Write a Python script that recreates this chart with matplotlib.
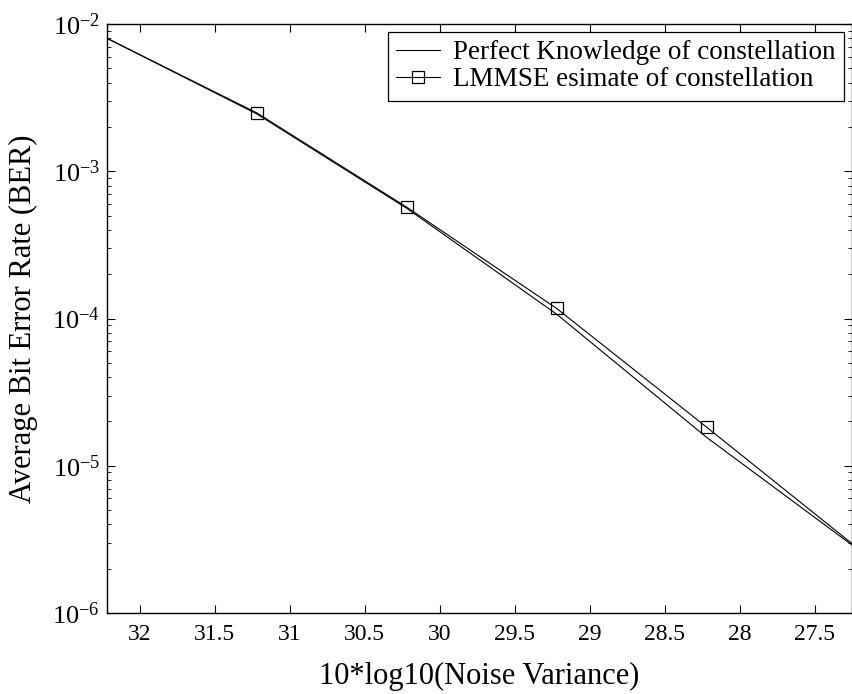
import numpy as np
import matplotlib.pyplot as plt
from matplotlib.ticker import LogLocator, NullFormatter

# noise variance in dB (10*log10), axis is reversed
noise_db = [32.22, 31.22, 30.22, 29.22, 28.22, 27.22]

# BER values
ber_perfect = [8.0e-3, 2.45e-3, 5.6e-4, 1.07e-4, 1.56e-5, 2.75e-6]
ber_lmmse = [8.0e-3, 2.49e-3, 5.7e-4, 1.17e-4, 1.83e-5, 2.8e-6]

plt.rcParams['font.family'] = ['Liberation Serif', 'DejaVu Serif']
plt.rcParams['mathtext.fontset'] = 'stix'

fig = plt.figure(figsize=(8.53, 6.94), dpi=100)
ax = fig.add_axes([0.1254, 0.1167, 0.8734, 0.8487])

ax.semilogy(noise_db, ber_perfect, color='black', linewidth=0.8,
            label='Perfect Knowledge of constellation')
ax.semilogy(noise_db, ber_lmmse, color='black', linewidth=0.8, marker='s',
            markersize=8.5, markerfacecolor='none', markeredgewidth=0.9,
            markevery=[1, 2, 3, 4],
            label='LMMSE esimate of constellation')

ax.set_xlim(32.22, 27.25)
ax.set_ylim(1e-6, 1e-2)
ax.set_xticks([32, 31.5, 31, 30.5, 30, 29.5, 29, 28.5, 28, 27.5])
ax.set_xticklabels(['32', '31.5', '31', '30.5', '30', '29.5', '29', '28.5', '28', '27.5'])
ax.yaxis.set_major_locator(LogLocator(base=10, numticks=10))
ax.yaxis.set_minor_locator(LogLocator(base=10, subs=np.arange(2, 10), numticks=10))
ax.yaxis.set_minor_formatter(NullFormatter())

ax.tick_params(which='both', direction='in', top=True, right=True)
ax.tick_params(axis='x', labelsize=17, pad=8)
ax.tick_params(axis='y', labelsize=19, pad=5)
ax.tick_params(which='major', length=6, width=0.8)
ax.tick_params(which='minor', length=3, width=0.6)
for s in ax.spines.values():
    s.set_linewidth(1.0)

ax.set_xlabel('10*log10(Noise Variance)', fontsize=22, labelpad=12)
ax.set_ylabel('Average Bit Error Rate (BER)', fontsize=22, labelpad=10)

leg = ax.legend(loc='upper right', fontsize=19.5, fancybox=False, framealpha=1,
                edgecolor='black', borderaxespad=0.3, handlelength=1.6,
                handletextpad=0.5, borderpad=0.3, labelspacing=0.08)
leg.get_frame().set_linewidth(0.9)

plt.savefig('out.png', dpi=100)
